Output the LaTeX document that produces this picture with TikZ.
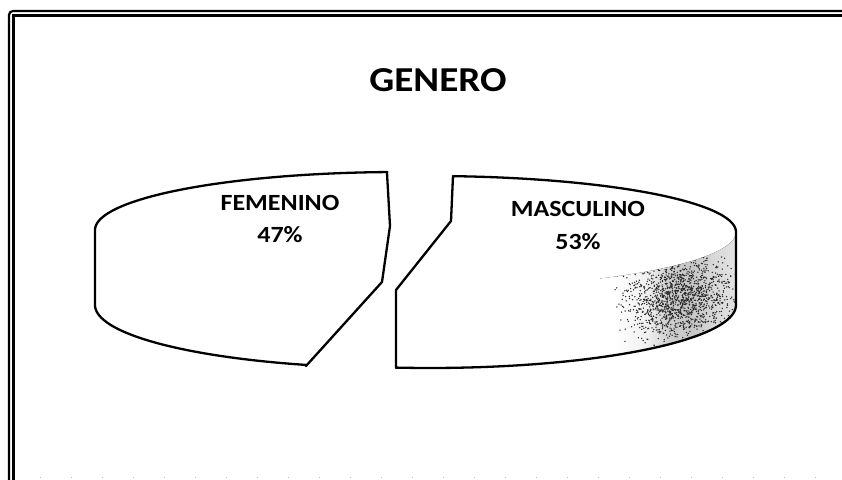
\documentclass[tikz,border=0pt]{standalone}
\usepackage{fontspec}
\newfontfamily\lblfont[FakeStretch=1.12]{Carlito}
\pgfdeclarehorizontalshading{wallshade}{100bp}{color(0bp)=(white); color(30bp)=(white); color(42bp)=(black!6); color(50bp)=(black!20); color(58bp)=(black!22); color(66bp)=(black!15); color(75bp)=(black!10); color(100bp)=(black!10)}
\begin{document}
\begin{tikzpicture}[x=0.5pt,y=-0.5pt,
  frameline/.style={line width=1.1pt,black},
  piece/.style={line width=1.15pt,black,line join=round},
  speck/.style={black!85},
  titlestyle/.style={font={\lblfont\bfseries\fontsize{17.5}{20}\selectfont},inner sep=0pt,anchor=base},
  lblstyle/.style={font={\lblfont\bfseries\fontsize{11.6}{14}\selectfont},inner sep=0pt,anchor=base}]
\useasboundingbox (0,0) rectangle (842,480);
% frame
\draw[frameline,rounded corners=2pt] (9,480) -- (9,11) -- (842,11);
\draw[frameline] (13.5,480) -- (13.5,15.5) -- (842,15.5);
\draw[gray!55,line width=0.4pt,dash pattern=on 0.5pt off 15pt] (40,477) -- (842,477);
% title
\node[titlestyle] (title) at (438,92) {GENERO};
% shading on right side wall
\begin{scope}
\clip plot[domain=295:360,samples=40] ({430+306*cos(\x)},{232-56*sin(\x)})
  -- plot[domain=360:295,samples=40] ({430+306*cos(\x)},{305-63*sin(\x)}) -- cycle;
\fill[shading=wallshade] (600,225) rectangle (740,365);
\pgfmathsetseed{42}
\foreach \i in {1,...,1500}{
  \pgfmathsetmacro\px{680+52*(rnd+rnd+rnd-1.5)}
  \pgfmathsetmacro\py{298+42*(rnd+rnd+rnd-1.5)}
  \fill[speck] (\px,\py) circle[radius=0.75];
}
\end{scope}
% femenino piece
\draw[piece] (387,173) -- (390,226) -- (382,282) -- (306,366)
  -- plot[domain=252:180,samples=50] ({400+305*cos(\x)},{305-63*sin(\x)})
  -- plot[domain=180:92.4,samples=50] ({400+305*cos(\x)},{230-58*sin(\x)}) -- cycle;
% masculino piece
\draw[piece] (453,176) -- (451,221) -- (396,290) -- (396,368)
  -- plot[domain=263.6:360,samples=50] ({430+306*cos(\x)},{305-63*sin(\x)})
  -- plot[domain=0:85.7,samples=50] ({430+306*cos(\x)},{232-56*sin(\x)}) -- cycle;
% labels
\node[lblstyle] (fem) at (280,211) {FEMENINO};
\node[lblstyle] (fempct) at (280,243) {47\%};
\node[lblstyle] (mas) at (578,217) {MASCULINO};
\node[lblstyle] (maspct) at (578,250) {53\%};
\end{tikzpicture}
\end{document}
